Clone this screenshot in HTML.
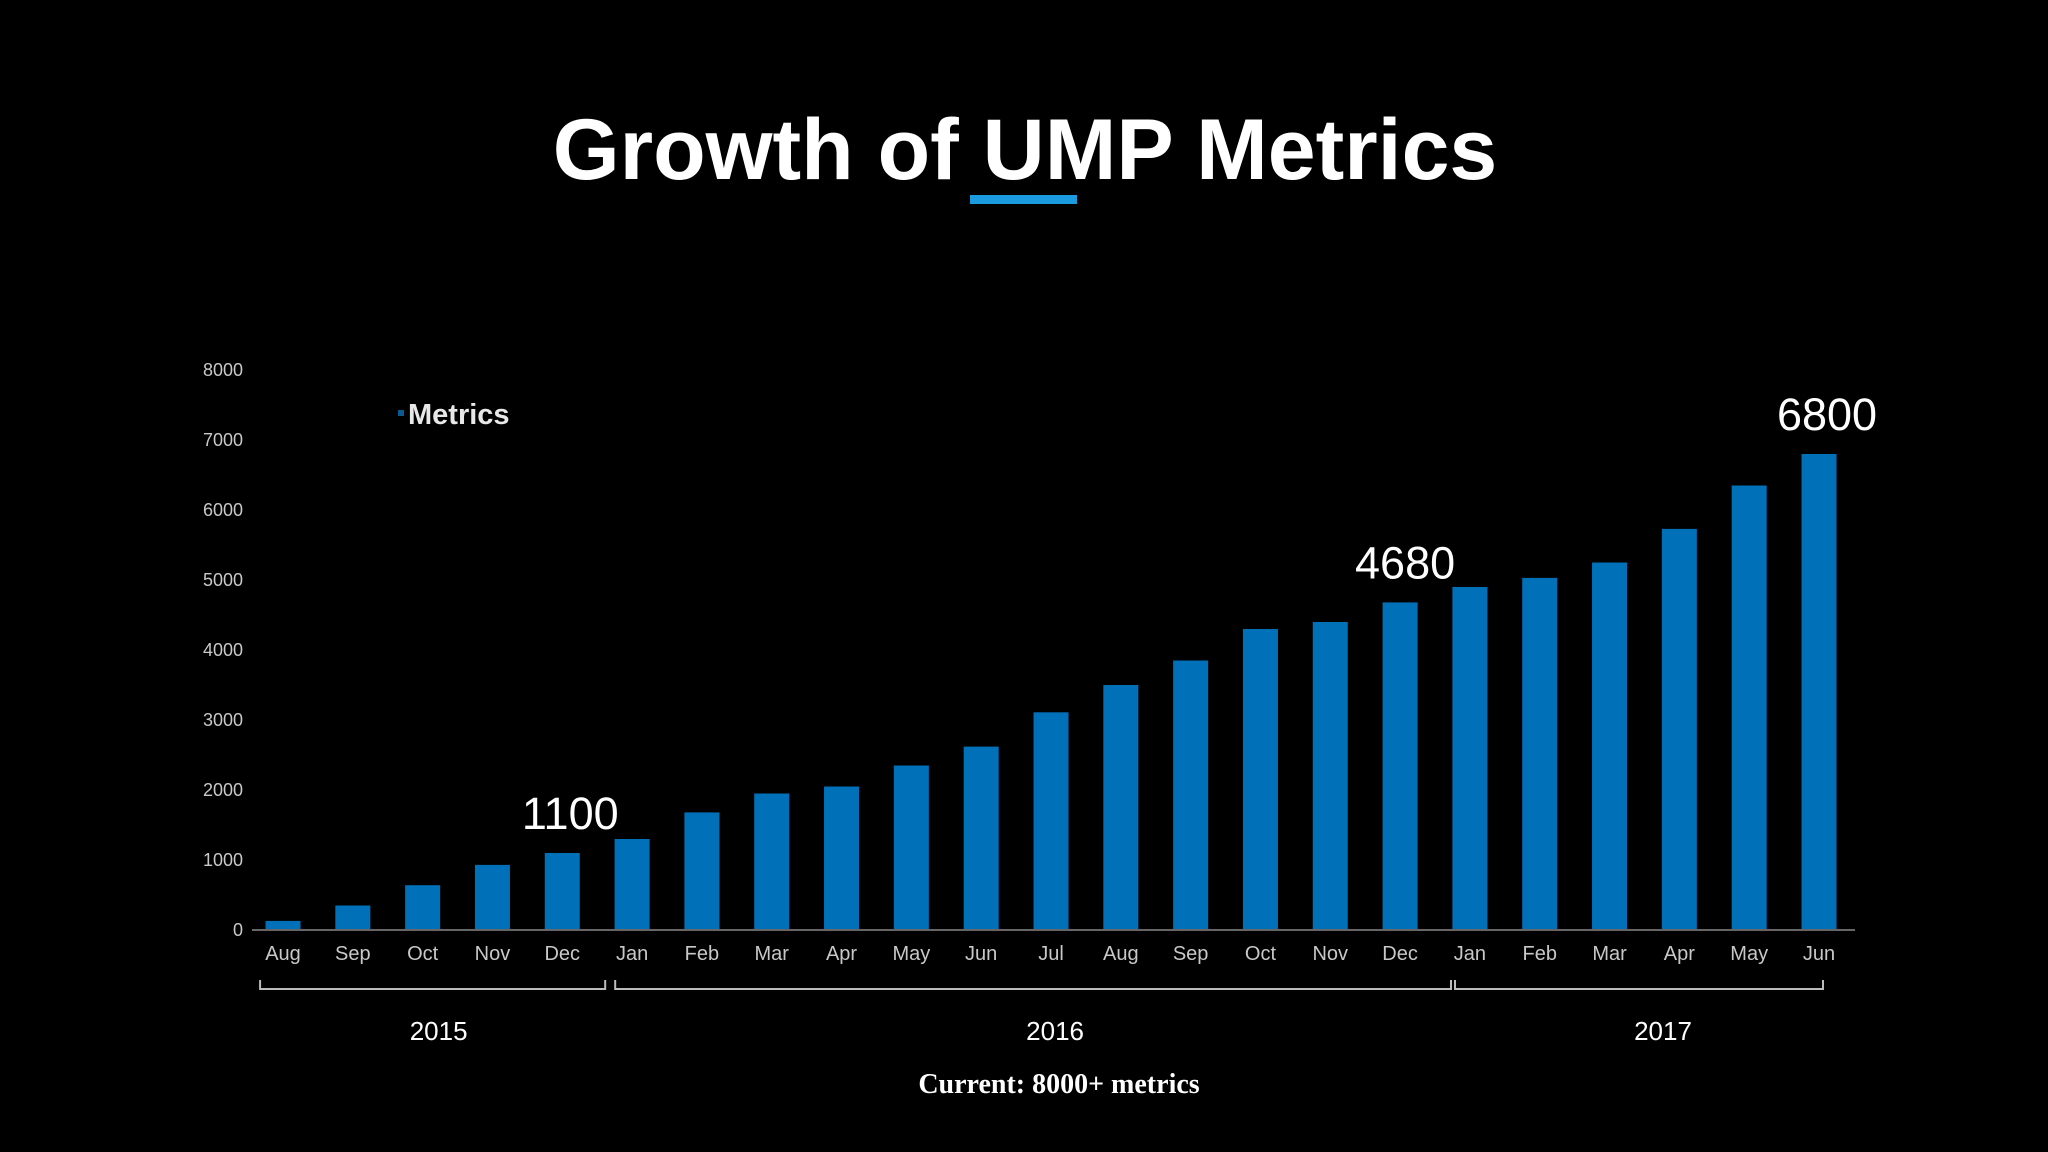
<!DOCTYPE html>
<html><head><meta charset="utf-8">
<style>
html,body{margin:0;padding:0;background:#000;}
body{width:2048px;height:1152px;overflow:hidden;}
svg{display:block;}
</style></head>
<body>
<svg id="chart" width="2048" height="1152" viewBox="0 0 2048 1152">
  <rect x="0" y="0" width="2048" height="1152" fill="#000"/>
  <text x="1025" y="179" text-anchor="middle" font-family="Liberation Sans, sans-serif" font-weight="bold" font-size="86" fill="#fff">Growth of UMP Metrics</text>
  <rect x="970" y="195" width="107" height="9" fill="#1a9be0"/>
  <rect x="398" y="410" width="6" height="6" fill="#0a5a90"/>
  <text x="408" y="424" font-family="Liberation Sans, sans-serif" font-weight="bold" font-size="29" fill="#e8e8e8">Metrics</text>
  <g id="yaxis"></g>
  <g id="bars"></g>
  <g id="xaxis"></g>
  <g id="annots"></g>
  <g id="years"></g>
  <text x="1059" y="1093" text-anchor="middle" font-family="Liberation Serif, serif" font-weight="bold" font-size="28" fill="#fff">Current: 8000+ metrics</text>
</svg>
<script>
const months = ["Aug","Sep","Oct","Nov","Dec","Jan","Feb","Mar","Apr","May","Jun","Jul","Aug","Sep","Oct","Nov","Dec","Jan","Feb","Mar","Apr","May","Jun"];
const values = [130,350,640,930,1100,1300,1680,1950,2050,2350,2620,3110,3500,3850,4300,4400,4680,4900,5030,5250,5730,6350,6800];
const yTicks = [0,1000,2000,3000,4000,5000,6000,7000,8000];
const annotIdx = [4,16,22];
const annotLabels = ["1100","4680","6800"];
const yearLabels = ["2015","2016","2017"];
const yearStart = [0,5,17];
const yearEnd = [4,16,22];

const NS="http://www.w3.org/2000/svg";
const y0=930, yTop=370, yMax=8000;
const x0=283, step=(1819-283)/22, bw=35;
function yS(v){return y0-(v/yMax)*(y0-yTop);}
function xS(i){return x0+i*step;}
function mk(tag,attrs,parent,text){const e=document.createElementNS(NS,tag);for(const k in attrs)e.setAttribute(k,attrs[k]);if(text!==undefined)e.textContent=text;parent.appendChild(e);return e;}

const ya=document.getElementById('yaxis');
yTicks.forEach(t=>{
  const e=mk('text',{x:243,y:yS(t)+6,'text-anchor':'end','font-family':'Liberation Sans, sans-serif','font-size':'18',fill:'#c8c8c8'},ya,String(t));
  
  
});

const bg=document.getElementById('bars');
values.forEach((v,i)=>{
  const r=mk('rect',{x:xS(i)-bw/2,y:yS(v),width:bw,height:y0-yS(v),fill:'#0070b8'},bg);
  
  
});

const xa=document.getElementById('xaxis');
const al=mk('line',{x1:252,y1:y0,x2:1855,y2:y0,stroke:'#666','stroke-width':2},xa);


months.forEach((m,i)=>{
  const e=mk('text',{x:xS(i),y:960,'text-anchor':'middle','font-family':'Liberation Sans, sans-serif','font-size':'20',fill:'#c8c8c8'},xa,m);
  
  
});

const an=document.getElementById('annots');
const annotDx=[8,5,8];
annotIdx.forEach((idx,k)=>{
  const e=mk('text',{x:xS(idx)+annotDx[k],y:yS(values[idx])-24,'text-anchor':'middle','font-family':'Liberation Sans, sans-serif','font-size':'45',fill:'#fff'},an,annotLabels[k]);
  
  
});

const yg=document.getElementById('years');
const yearLabelDx=[6,22,24];
const bStartDx=[12,18,20];
const bEndDx=[step/2+8,step/2+16,4];
yearLabels.forEach((lab,k)=>{
  const xa1=xS(yearStart[k])-step/2+bStartDx[k], xa2=xS(yearEnd[k])+bEndDx[k];
  const p=mk('path',{d:`M${xa1},980 L${xa1},989 L${xa2},989 L${xa2},980`,stroke:'#bbb','stroke-width':2,fill:'none'},yg);
  
  
  const t=mk('text',{x:(xa1+xa2)/2+yearLabelDx[k],y:1040,'text-anchor':'middle','font-family':'Liberation Sans, sans-serif','font-size':'26',fill:'#fff'},yg,lab);
  
  
});
</script>
</body></html>
